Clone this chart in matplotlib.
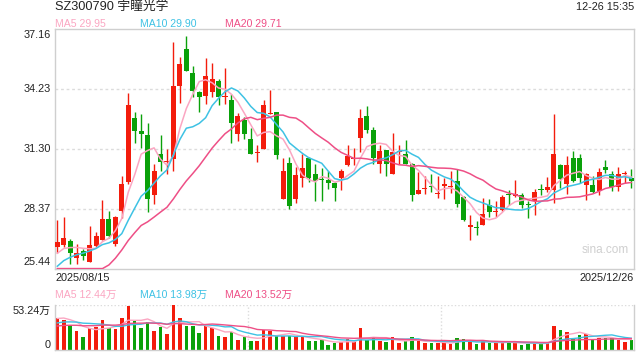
import numpy as np
import matplotlib
matplotlib.use('Agg')
import matplotlib.pyplot as plt

plt.rcParams['font.family'] = ['Liberation Sans', 'Noto Sans CJK SC', 'DejaVu Sans']

title = 'SZ300790 宇瞳光学'
timestamp = '12-26 15:35'
date_labels = ['2025/08/15', '2025/12/26']
price_ticks = [37.16, 34.23, 31.30, 28.37, 25.44]
vol_max = 53.24
vol_tick_labels = ['53.24万', '0']
ma_windows = [5, 10, 20]
price_legend = ['MA5 29.95', 'MA10 29.90', 'MA20 29.71']
vol_legend = ['MA5 12.44万', 'MA10 13.98万', 'MA20 13.52万']

opens = [26.49, 26.59, 26.81, 26.00, 26.32, 25.80, 26.57, 26.86, 27.89, 26.67,
         28.25, 29.68, 32.81, 32.18, 31.97, 29.07, 31.07, 30.68, 30.83, 34.39,
         36.19, 35.00, 34.07, 33.90, 34.07, 34.61, 33.84, 33.69, 32.02, 32.72,
         31.77, 31.12, 31.28, 33.00, 33.13, 28.86, 30.60, 28.88, 29.86, 30.87,
         30.06, 29.81, 29.81, 29.65, 29.86, 30.51, 30.81, 31.82, 32.92, 32.22,
         30.58, 31.23, 30.10, 31.15, 31.04, 30.58, 29.12, 29.34, 29.47, 29.09,
         29.47, 29.42, 29.76, 28.98, 27.47, 27.50, 27.57, 28.58, 28.22, 28.32,
         29.12, 29.00, 29.04, 28.62, 28.78, 29.37, 29.29, 29.29, 30.50, 29.61,
         30.87, 30.84, 29.56, 29.52, 29.27, 30.42, 30.06, 29.43, 30.06, 29.86]
highs = [27.85, 27.96, 26.91, 26.65, 26.42, 27.53, 27.27, 28.83, 28.25, 28.01,
         29.97, 34.02, 33.13, 33.03, 32.59, 30.55, 31.99, 31.28, 36.52, 35.79,
         36.80, 35.33, 34.15, 35.75, 35.49, 34.72, 35.26, 33.98, 33.08, 32.84,
         32.31, 31.49, 33.69, 34.18, 33.13, 30.87, 30.92, 30.42, 31.04, 30.91,
         30.58, 30.38, 30.22, 29.70, 30.30, 31.50, 31.33, 33.25, 33.41, 32.35,
         31.50, 31.23, 32.10, 31.50, 31.74, 30.63, 30.17, 29.97, 30.10, 29.97,
         29.86, 30.25, 30.30, 29.02, 28.06, 27.76, 28.91, 28.88, 28.75, 29.04,
         29.32, 29.81, 29.16, 28.75, 29.37, 29.60, 29.93, 33.00, 30.55, 30.96,
         31.20, 31.04, 30.14, 29.97, 30.38, 30.74, 30.22, 30.42, 30.25, 30.33]
lows = [26.21, 26.49, 25.66, 25.67, 25.88, 25.77, 26.49, 26.86, 26.95, 26.57,
        27.93, 29.60, 31.61, 31.33, 28.22, 28.62, 30.22, 30.06, 30.22, 33.54,
        35.13, 33.85, 33.13, 33.49, 33.85, 33.46, 33.49, 31.61, 31.69, 31.77,
        31.04, 30.68, 31.28, 33.00, 30.79, 28.86, 28.37, 28.66, 29.43, 29.70,
        28.75, 28.75, 29.37, 28.75, 29.32, 30.46, 30.51, 31.17, 32.10, 30.55,
        30.14, 29.97, 30.06, 30.55, 30.55, 28.78, 29.12, 29.11, 29.19, 28.91,
        28.88, 29.16, 28.47, 27.76, 26.86, 27.08, 27.57, 27.96, 27.96, 28.29,
        28.58, 28.94, 28.42, 27.94, 28.06, 29.07, 29.19, 28.66, 29.40, 29.11,
        29.70, 29.65, 28.80, 29.16, 29.07, 30.14, 29.24, 29.24, 29.65, 29.40]
closes = [26.75, 26.95, 26.24, 26.23, 26.09, 26.62, 27.06, 27.89, 27.04, 27.96,
          29.61, 33.44, 32.18, 32.05, 28.86, 30.25, 30.68, 30.71, 34.39, 35.46,
          35.13, 34.15, 33.82, 34.85, 34.72, 33.85, 33.87, 32.58, 32.90, 32.02,
          31.04, 31.15, 33.44, 33.08, 31.00, 30.25, 28.50, 30.01, 30.38, 29.86,
          29.73, 29.78, 29.63, 29.40, 30.25, 30.96, 30.84, 32.81, 32.22, 30.84,
          31.20, 30.55, 31.15, 31.20, 30.58, 29.07, 29.29, 29.37, 29.43, 29.12,
          29.61, 29.47, 28.63, 27.85, 27.60, 27.44, 28.12, 28.21, 28.26, 28.98,
          29.07, 29.11, 28.55, 28.55, 29.20, 29.30, 29.45, 31.04, 29.84, 30.50,
          29.76, 29.86, 30.06, 29.19, 30.17, 30.27, 29.43, 30.10, 30.10, 29.76]
# volume in 万 shares
volumes = [38.3, 35.5, 29.5, 22.4, 14.9, 25.9, 27.7, 35.1, 25.9, 24.8,
           38.3, 52.2, 34.4, 25.9, 32.7, 22.4, 27.7, 19.5, 53.24, 37.3,
           28.7, 28.0, 20.6, 28.0, 26.3, 17.0, 14.9, 21.7, 11.7, 14.9,
           10.6, 10.6, 23.8, 22.4, 17.7, 16.7, 16.7, 14.9, 14.9, 10.6,
           10.3, 11.7, 6.4, 8.5, 9.9, 12.8, 9.9, 25.6, 12.4, 14.9,
           10.6, 9.6, 14.9, 7.8, 10.6, 14.9, 10.6, 7.8, 7.8, 7.8,
           10.6, 6.7, 13.8, 12.8, 10.3, 6.7, 11.4, 8.5, 7.8, 8.9,
           9.3, 9.2, 6.4, 7.1, 7.8, 7.8, 9.9, 28.7, 23.1, 21.3,
           14.0, 17.8, 19.0, 12.1, 14.7, 13.9, 13.9, 12.1, 9.9, 12.4]
# sessions before the visible window (only feed the moving averages)
prior_closes = [21.2, 21.6, 21.4, 21.8, 21.5, 21.3, 21.7, 21.6, 21.4, 21.5,
                24.2, 24.6, 25.0, 25.3, 25.6, 25.8, 26.0, 26.2, 26.3]
prior_volumes = [22.0, 25.5, 23.0, 27.0, 24.0, 26.5, 23.5, 25.0, 24.5, 27.0,
                 24.0, 28.5, 25.0, 27.5, 28.5, 33.0, 39.5, 36.0, 39.7]

RED = '#f31c0c'
GREEN = '#0aa10a'
MA_COLORS = ['#fba6c2', '#3ec2e4', '#ee4f86']
GRID = '#dcdcdc'
FRAME = '#cfcfcf'

o = np.array(opens); h = np.array(highs); l = np.array(lows); c = np.array(closes)
v = np.array(volumes)
n = len(c)
x = np.arange(n)
up = c >= o
cols = np.where(up, RED, GREEN)

def mov_avg(prior, vals, w):
    full = np.concatenate([prior, vals])
    out = np.convolve(full, np.ones(w) / w, mode='valid')
    return out[-len(vals):]

fig = plt.figure(figsize=(6.4, 3.6), dpi=100)
W, H = 640.0, 360.0
L, R = 54.5, 634.0
ax = fig.add_axes([L / W, 1 - 269 / H, (R - L) / W, (269 - 29) / H])
axv = fig.add_axes([L / W, 1 - 350 / H, (R - L) / W, (350 - 305) / H])

ymin, ymax = price_ticks[-1], price_ticks[0]
xlim = (-0.44, n - 1 + 0.42)

# price panel
for t in price_ticks[1:-1]:
    ax.axhline(t, color=GRID, lw=1.0, ls=(0, (2, 2)), zorder=0)
ax.vlines(x, l, h, colors=cols, lw=1.0, zorder=2)
body_lo = np.minimum(o, c)
body_h = np.maximum(np.abs(c - o), 0.05)
ax.bar(x, body_h, bottom=body_lo, width=0.78, color=cols, lw=0, zorder=3)
for w, col in zip(ma_windows, MA_COLORS):
    ma = mov_avg(prior_closes, c, w)
    ax.plot(x, np.clip(ma, ymin + 0.02, ymax), color=col, lw=1.1, zorder=4)
ax.set_xlim(*xlim)
ax.set_ylim(ymin, ymax)
ax.set_xticks([]); ax.set_yticks([])
for s in ax.spines.values():
    s.set_color(FRAME); s.set_linewidth(1.0)
ytr = ax.get_yaxis_transform()
for i, t in enumerate(price_ticks):
    va = 'center'
    yy = t
    if i == 0:
        yy = t - 0.3
    elif i == len(price_ticks) - 1:
        yy = t + 0.33
    ax.text(-0.006, yy, f'{t:.2f}', transform=ytr, ha='right', va=va,
            fontsize=7.8, color='#222222')
ax.text(0.95, 0.08, 'sina.com', transform=ax.transAxes, ha='center', va='center',
        fontsize=8.5, color='#cfcfcf')

# volume panel
axv.bar(x, v, width=0.55, color=cols, lw=0, zorder=2)
for w, col in zip(ma_windows, MA_COLORS):
    ma = mov_avg(prior_volumes, v, w)
    axv.plot(x, ma, color=col, lw=1.0, zorder=3)
axv.set_xlim(*xlim)
axv.set_ylim(0, vol_max)
axv.set_xticks([]); axv.set_yticks([])
for k in ['left', 'right', 'bottom']:
    axv.spines[k].set_color(FRAME); axv.spines[k].set_linewidth(1.0)
axv.spines['top'].set_visible(False)
axv.axhline(vol_max, color=GRID, lw=1.0, ls=(0, (1, 1.5)), zorder=1)
for fx in (1 / 3, 2 / 3):
    axv.axvline(xlim[0] + fx * (xlim[1] - xlim[0]), color=GRID, lw=1.0,
                ls=(0, (1, 1.5)), zorder=1)
axv.text(-0.006, 0.86, vol_tick_labels[0], transform=axv.transAxes, ha='right',
         va='center', fontsize=7.8, color='#222222')
axv.text(-0.006, 0.12, vol_tick_labels[1], transform=axv.transAxes, ha='right',
         va='center', fontsize=7.8, color='#222222')

# header texts
fig.text(55 / W, 1 - 7 / H, title, fontsize=9.2, color='#222222', va='center', ha='left')
fig.text(R / W, 1 - 7 / H, timestamp, fontsize=7.8, color='#222222', va='center', ha='right')
for xp, txt, col in zip([55, 140, 225], price_legend, MA_COLORS):
    fig.text(xp / W, 1 - 24 / H, txt, fontsize=7.6, color=col, va='center', ha='left')
for xp, txt, col in zip([55, 140, 225], vol_legend, MA_COLORS):
    fig.text(xp / W, 1 - 295 / H, txt, fontsize=7.6, color=col, va='center', ha='left')
fig.text(55 / W, 1 - 278 / H, date_labels[0], fontsize=7.8, color='#222222', va='center', ha='left')
fig.text(R / W, 1 - 278 / H, date_labels[1], fontsize=7.8, color='#222222', va='center', ha='right')

fig.savefig('out.png', dpi=100, facecolor='white')
